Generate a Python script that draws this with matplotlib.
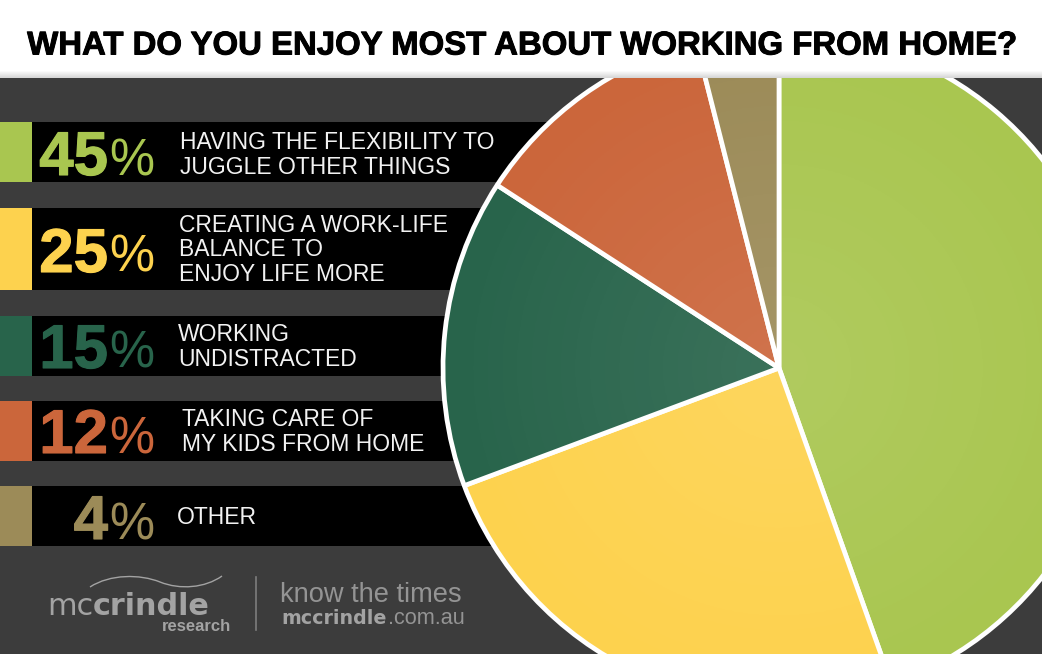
#!/usr/bin/env python3
import numpy as np
import matplotlib
matplotlib.use('Agg')
import matplotlib.pyplot as plt
import matplotlib.patheffects as pe
from matplotlib.patches import Rectangle, PathPatch
from matplotlib.path import Path

W, H = 1042, 654

TITLE = 'WHAT DO YOU ENJOY MOST ABOUT WORKING FROM HOME?'
values = [45, 25, 15, 12, 4]
number_labels = ['45', '25', '15', '12', '4']
answers = [
    'HAVING THE FLEXIBILITY TO\nJUGGLE OTHER THINGS',
    'CREATING A WORK-LIFE\nBALANCE TO\nENJOY LIFE MORE',
    'WORKING\nUNDISTRACTED',
    'TAKING CARE OF\nMY KIDS FROM HOME',
    'OTHER',
]
colors = ['#a9c650', '#fdd24e', '#28644b', '#cb663b', '#9c8b58']

# layout in image pixels, y measured from the top
PANEL_TOP = 78
PIE_X, PIE_Y, PIE_R = 779, 368, 336
band_tops = [122, 208, 316, 401, 486]
band_bottoms = [182, 290, 376, 461, 546]
num_baselines = [175, 272, 368, 453, 539]
answer_x = [180, 179, 178, 182, 177]
answer_centers = [155, 250, 347, 432, 518]


def fy(y):
    """Image pixel row to axes y."""
    return H - y


fig = plt.figure(figsize=(W / 100, H / 100), dpi=100, facecolor='white')
ax = fig.add_axes([0, 0, 1, 1])
plt.rcParams['font.family'] = ['Liberation Sans', 'DejaVu Sans']

panel = Rectangle((0, 0), W, fy(PANEL_TOP), fc='#3c3c3c', ec='none', zorder=1)
ax.add_patch(panel)

# header shadow
shadow = np.linspace(1.0, 0.84, 8).reshape(-1, 1)
ax.imshow(shadow, extent=(0, W, fy(PANEL_TOP), fy(PANEL_TOP - 8)), cmap='gray',
          vmin=0, vmax=1, aspect='auto', zorder=1)

# rows, they stop behind the pie
for top, bottom, col in zip(band_tops, band_bottoms, colors):
    ax.add_patch(Rectangle((0, fy(bottom)), 700, bottom - top, fc='black', ec='none', zorder=2))
    ax.add_patch(Rectangle((0, fy(bottom)), 32, bottom - top, fc=col, ec='none', zorder=3))

# pie, clockwise from twelve o'clock
wedges, _ = ax.pie(values, colors=colors, startangle=90, counterclock=False,
                   center=(PIE_X, fy(PIE_Y)), radius=PIE_R,
                   wedgeprops=dict(edgecolor='white', linewidth=3.4, joinstyle='bevel'), frame=False)
for wedge in wedges:
    wedge.set_zorder(4)
    wedge.set_clip_on(True)
    wedge.set_clip_path(panel)

# soft light in the middle of the pie
yy, xx = np.mgrid[-PIE_R:PIE_R:300j, -PIE_R:PIE_R:300j]
dist = np.hypot(xx, yy) / PIE_R
glow = np.ones((300, 300, 4))
glow[..., 3] = np.clip(0.09 * (1 - dist), 0, 1)
im = ax.imshow(glow, extent=(PIE_X - PIE_R, PIE_X + PIE_R, fy(PIE_Y) - PIE_R, fy(PIE_Y) + PIE_R),
               aspect='auto', zorder=5)
im.set_clip_path(panel)

# row text
for i, col in enumerate(colors):
    ax.text(108, fy(num_baselines[i]), number_labels[i], color=col, fontsize=44.5,
            fontweight='bold', ha='right', va='baseline', zorder=6,
            path_effects=[pe.withStroke(linewidth=0.8, foreground=col)])
    ax.text(154, fy(num_baselines[i]), '%', color=col, fontsize=36.5,
            ha='right', va='baseline', zorder=6)
    ax.text(answer_x[i], fy(answer_centers[i]), answers[i], color='#f2f2f2', fontsize=16.5,
            ha='left', va='center', linespacing=1.08, zorder=6)

ax.text(522, fy(46), TITLE, color='black', fontsize=23.7, fontweight='bold',
        ha='center', va='center', zorder=6,
        path_effects=[pe.withStroke(linewidth=0.7, foreground='black')])

# logo block
GREY = '#a3a3a3'
wave = Path([(90, fy(587)), (110, fy(574)), (140, fy(574)), (160, fy(582)),
             (180, fy(590)), (205, fy(588)), (222, fy(576))],
            [Path.MOVETO, Path.CURVE4, Path.CURVE4, Path.CURVE4,
             Path.CURVE4, Path.CURVE4, Path.CURVE4])
ax.add_patch(PathPatch(wave, fc='none', ec=GREY, lw=1.0, zorder=6))
ax.text(47, fy(615), 'mc', color=GREY, fontsize=21.8, family='DejaVu Sans', ha='left', va='baseline', zorder=6)
ax.text(93, fy(615), 'crindle', color=GREY, fontsize=21.8, family='DejaVu Sans', fontweight='bold',
        ha='left', va='baseline', zorder=6)
ax.text(231, fy(631), 'research', color=GREY, fontsize=12, fontweight='bold', ha='right',
        va='baseline', zorder=6)
ax.plot([256, 256], [fy(577), fy(630)], color='#7d7d7d', lw=1.2, zorder=6)
ax.text(280, fy(602), 'know the times', color='#949494', fontsize=19.6, ha='left', va='baseline', zorder=6)
ax.text(281, fy(624), 'mccrindle', color=GREY, fontsize=13.7, family='DejaVu Sans', fontweight='bold',
        ha='left', va='baseline', zorder=6)
ax.text(388, fy(624), '.com.au', color='#949494', fontsize=15.6, ha='left', va='baseline', zorder=6)

ax.set_xlim(0, W)
ax.set_ylim(0, H)
ax.set_aspect('auto')
ax.axis('off')

fig.savefig('out.png', dpi=100)
